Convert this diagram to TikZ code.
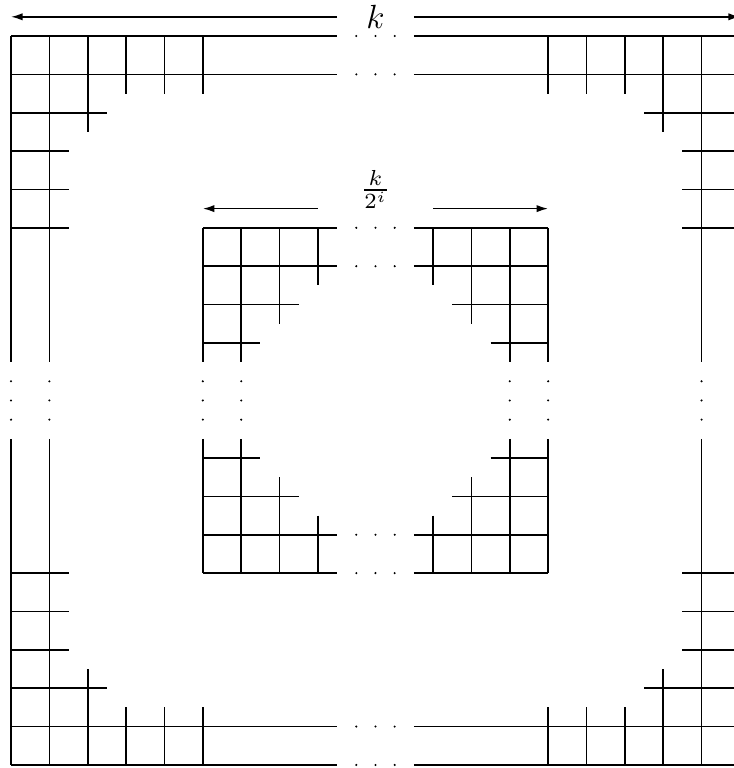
\documentclass[tikz,border=0pt]{standalone}
\usepackage{graphicx}
\usetikzlibrary{arrows.meta}
\begin{document}
\begin{tikzpicture}[x=1cm,y=-1cm,
  gridline/.style={line width=1.2pt},
  measure/.style={line width=1.2pt,-{Latex[length=3mm,width=1.9mm]}},
  dotmark/.style={fill=black,draw=none},
]
\useasboundingbox (-0.287,-0.938) rectangle (18.84,19.08);
\clip (-0.287,-0.938) rectangle (18.84,19.08);

% ---------- outer frame ----------
\foreach \r in {0,1,18,19}
  \draw[gridline] (0,\r) -- (8.5,\r) (10.5,\r) -- (19,\r);
\foreach \r in {2,17}
  \draw[gridline] (0,\r) -- (2.5,\r) (16.5,\r) -- (19,\r);
\foreach \r in {3,4,5,14,15,16}
  \draw[gridline] (0,\r) -- (1.5,\r) (17.5,\r) -- (19,\r);
\foreach \c in {0,1,18,19}
  \draw[gridline] (\c,0) -- (\c,8.5) (\c,10.5) -- (\c,19);
\foreach \c in {2,17}
  \draw[gridline] (\c,0) -- (\c,2.5) (\c,16.5) -- (\c,19);
\foreach \c in {3,4,5,14,15,16}
  \draw[gridline] (\c,0) -- (\c,1.5) (\c,17.5) -- (\c,19);

% ---------- inner frame ----------
\foreach \r in {5,6,13,14}
  \draw[gridline] (5,\r) -- (8.5,\r) (10.5,\r) -- (14,\r);
\foreach \r in {7,12}
  \draw[gridline] (5,\r) -- (7.5,\r) (11.5,\r) -- (14,\r);
\foreach \r in {8,11}
  \draw[gridline] (5,\r) -- (6.5,\r) (12.5,\r) -- (14,\r);
\foreach \c in {5,6,13,14}
  \draw[gridline] (\c,5) -- (\c,8.5) (\c,10.5) -- (\c,14);
\foreach \c in {7,12}
  \draw[gridline] (\c,5) -- (\c,7.5) (\c,11.5) -- (\c,14);
\foreach \c in {8,11}
  \draw[gridline] (\c,5) -- (\c,6.5) (\c,12.5) -- (\c,14);

% ---------- dots ----------
\foreach \r in {0,1,18,19,5,6,13,14}
  \foreach \x in {9,9.5,10}
    \fill[dotmark] (\x,\r) circle (0.03);
\foreach \c in {0,1,18,19,5,6,13,14}
  \foreach \y in {9,9.5,10}
    \fill[dotmark] (\c,\y) circle (0.03);

% ---------- dimension arrows ----------
\node (klabel) at (9.5,-0.5) {\fontsize{24}{28}\selectfont$k$};
\coordinate (kL) at (0,-0.5);
\coordinate (kR) at (19,-0.5);
\coordinate (kLs) at (8.5,-0.5);
\coordinate (kRs) at (10.5,-0.5);
\draw[measure] (kLs) -- (kL);
\draw[measure] (kRs) -- (kR);

\node (fraclabel) at (9.5,4) {\scalebox{2.3}{$\frac{k}{2^i}$}};
\coordinate (fL) at (5,4.5);
\coordinate (fR) at (14,4.5);
\coordinate (fLs) at (8,4.5);
\coordinate (fRs) at (11,4.5);
\draw[measure] (fLs) -- (fL);
\draw[measure] (fRs) -- (fR);
\end{tikzpicture}
\end{document}
